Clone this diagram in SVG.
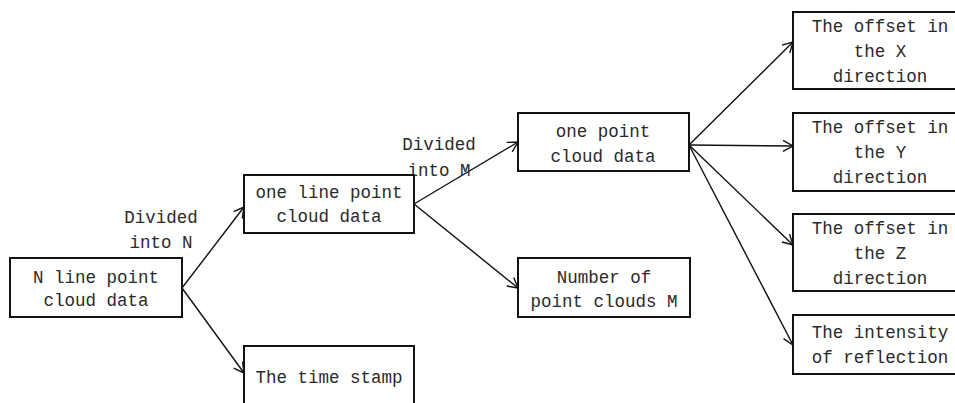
<svg xmlns="http://www.w3.org/2000/svg" width="955" height="403" viewBox="0 0 955 403">
  <style>
    .box { fill: #ffffff; stroke: #111111; stroke-width: 2; }
    .t { font-family: "Liberation Mono", "DejaVu Sans Mono", monospace; font-size: 17.5px; fill: #2a2a2a; text-anchor: middle; }
    .edge { fill: none; stroke: #111111; stroke-width: 1.4; marker-end: url(#arrow); }
  </style>
  <defs>
    <marker id="arrow" markerUnits="userSpaceOnUse" markerWidth="14" markerHeight="14" refX="11" refY="6" orient="auto">
      <path d="M1,0.5 L11,6 L1,11.5" fill="none" stroke="#111111" stroke-width="1.4"/>
    </marker>
  </defs>
  <rect width="955" height="403" fill="#ffffff"/>

  <!-- connectors -->
  <g id="connectors">
    <line class="edge" x1="182" y1="288" x2="244" y2="207"/>
    <line class="edge" x1="182" y1="288" x2="244" y2="373"/>
    <line class="edge" x1="414" y1="204" x2="518" y2="142"/>
    <line class="edge" x1="414" y1="204" x2="518" y2="288"/>
    <line class="edge" x1="689" y1="145" x2="793" y2="42"/>
    <line class="edge" x1="689" y1="145" x2="793" y2="146"/>
    <line class="edge" x1="689" y1="145" x2="793" y2="245"/>
    <line class="edge" x1="689" y1="145" x2="793" y2="345"/>
    <text class="t" x="161" y="223">Divided</text>
    <text class="t" x="161" y="248">into N</text>
    <text class="t" x="439" y="150">Divided</text>
    <text class="t" x="439" y="176">into M</text>
  </g>

  <g id="n-line-data">
    <rect class="box" x="10" y="258" width="172" height="59"/>
    <text class="t" x="96" y="283">N line point</text>
    <text class="t" x="96" y="306">cloud data</text>
  </g>

  <g id="one-line-data">
    <rect class="box" x="244" y="175" width="170" height="58"/>
    <text class="t" x="329" y="198">one line point</text>
    <text class="t" x="329" y="222">cloud data</text>
  </g>

  <g id="time-stamp">
    <rect class="box" x="244" y="346" width="170" height="70"/>
    <text class="t" x="329" y="383">The time stamp</text>
  </g>

  <g id="one-point-data">
    <rect class="box" x="518" y="113" width="171" height="58"/>
    <text class="t" x="603" y="137">one point</text>
    <text class="t" x="603" y="162">cloud data</text>
  </g>

  <g id="point-count">
    <rect class="box" x="518" y="258" width="172" height="59"/>
    <text class="t" x="604" y="283">Number of</text>
    <text class="t" x="604" y="307">point clouds M</text>
  </g>

  <g id="offset-x">
    <rect class="box" x="793" y="12" width="172" height="77"/>
    <text class="t" x="880" y="32">The offset in</text>
    <text class="t" x="880" y="57">the X</text>
    <text class="t" x="880" y="82">direction</text>
  </g>

  <g id="offset-y">
    <rect class="box" x="793" y="113" width="172" height="78"/>
    <text class="t" x="880" y="133">The offset in</text>
    <text class="t" x="880" y="158">the Y</text>
    <text class="t" x="880" y="183">direction</text>
  </g>

  <g id="offset-z">
    <rect class="box" x="793" y="214" width="172" height="77"/>
    <text class="t" x="880" y="234">The offset in</text>
    <text class="t" x="880" y="259">the Z</text>
    <text class="t" x="880" y="284">direction</text>
  </g>

  <g id="intensity">
    <rect class="box" x="793" y="315" width="172" height="59"/>
    <text class="t" x="880" y="338">The intensity</text>
    <text class="t" x="880" y="363">of reflection</text>
  </g>
</svg>
